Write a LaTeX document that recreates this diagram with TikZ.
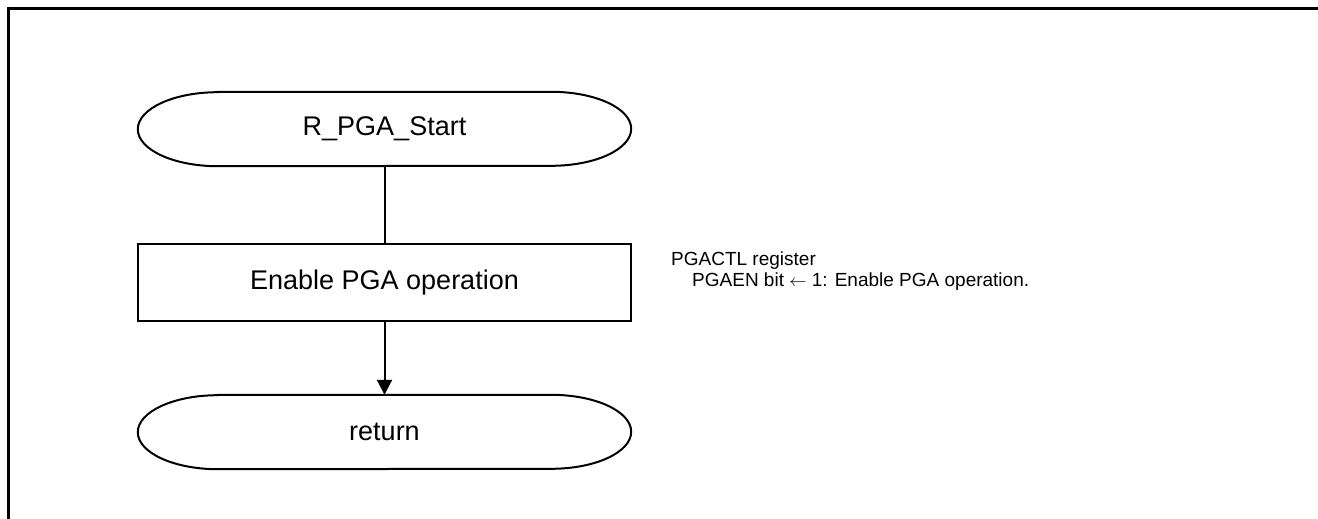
\documentclass[tikz,border=0pt]{standalone}
\usepackage{fontspec}
\setmainfont{Liberation Sans}
\usetikzlibrary{positioning,arrows.meta}

\begin{document}
\begin{tikzpicture}[x=1pt,y=1pt,node distance=153.5pt,on grid,
  >={Triangle[length=15pt,width=15pt]},
  term/.style={minimum width=493pt,minimum height=74pt,inner sep=0pt,font=\fontsize{27}{32}\selectfont},
  proc/.style={draw,line width=2pt,minimum width=493pt,minimum height=77pt,inner sep=0pt,font=\fontsize{27}{32}\selectfont},
  note/.style={align=left,inner sep=0pt,font=\fontsize{19}{21.5}\selectfont},
  outline/.style={line width=2pt}]
  \useasboundingbox (0,0) rectangle (1318,-519);
  \draw[line width=3pt] (8,-521) -- (8,-9) -- (1320,-9);
  \node[term] (start) at (384.5,-129) {R\_PGA\_Start};
  \node[proc] (enable) [below=of start] {Enable PGA operation};
  \node[term] (ret) [below=149.5pt of enable] {return};
  \node[note,anchor=north west] (regnote) at ([xshift=39pt,yshift=31pt]enable.east)
    {PGACTL register\\\hspace*{21pt}PGAEN bit $\leftarrow$ 1: Enable PGA operation.};
  \foreach \t in {start,ret}
    \draw[outline] ([xshift=80pt]\t.north west) -- ([xshift=-80pt]\t.north east)
      arc[start angle=90,end angle=-90,x radius=80pt,y radius=37pt]
      -- ([xshift=80pt]\t.south west)
      arc[start angle=270,end angle=90,x radius=80pt,y radius=37pt] -- cycle;
  \path[outline]
    (start) edge (enable)
    (enable) edge[->] (ret);
\end{tikzpicture}
\end{document}
